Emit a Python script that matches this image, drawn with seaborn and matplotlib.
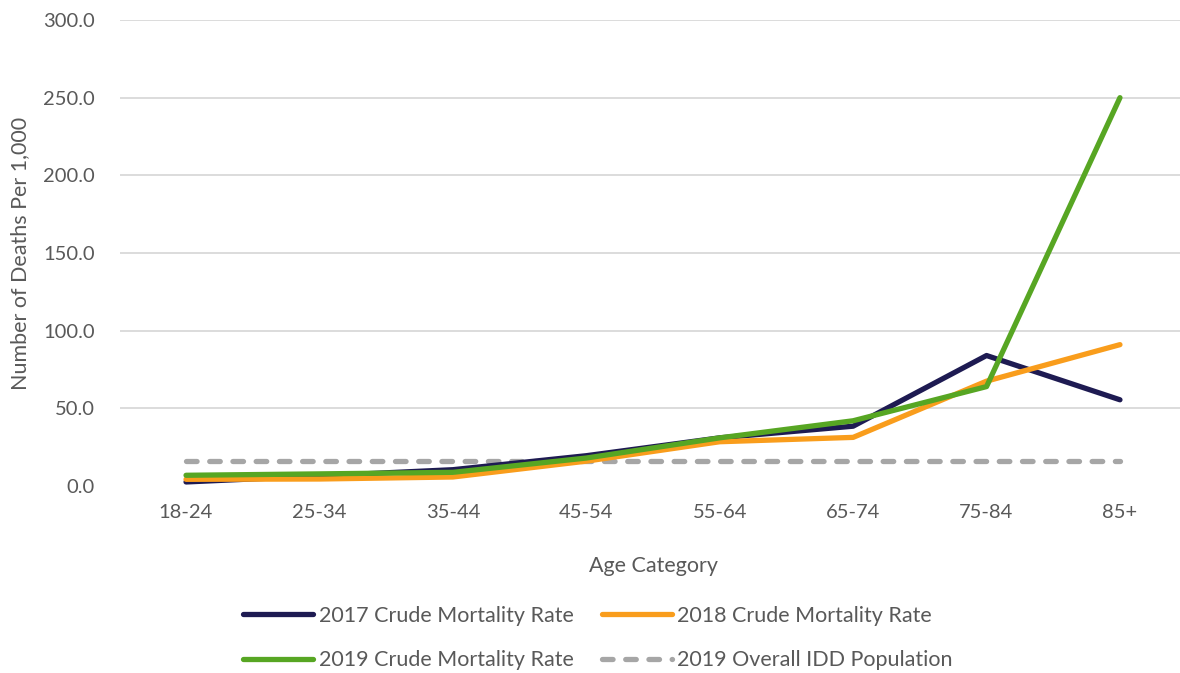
import matplotlib
matplotlib.use("Agg")
import matplotlib.pyplot as plt
import seaborn as sns
import pandas as pd

categories = ["18-24", "25-34", "35-44", "45-54", "55-64", "65-74", "75-84", "85+"]
rate_2017 = [2.6, 6.5, 10.5, 19.5, 31.0, 38.5, 84.0, 55.5]
rate_2018 = [4.3, 4.5, 5.8, 16.0, 28.5, 31.3, 67.5, 91.0]
rate_2019 = [6.9, 7.8, 8.8, 18.0, 31.0, 42.0, 64.0, 250.0]
idd_2019 = [16.3, 16.3, 16.3, 16.3, 16.3, 16.3, 16.3, 16.3]

series_names = ["2017 Crude Mortality Rate", "2018 Crude Mortality Rate",
                "2019 Crude Mortality Rate", "2019 Overall IDD Population"]
colors = ["#1E1B52", "#F99D1C", "#57A623", "#A6A6A6"]

sns.set_theme(style="white")
plt.rcParams["font.family"] = ["Lato", "DejaVu Sans"]

frames = []
for name, vals in zip(series_names, [rate_2017, rate_2018, rate_2019, idd_2019]):
    frames.append(pd.DataFrame({"Age": categories, "Rate": vals, "Series": name}))
df = pd.concat(frames, ignore_index=True)

fig = plt.figure(figsize=(11.8, 6.73), dpi=100)
ax = fig.add_axes([120/1180, 1 - 486/673, 1 - 120/1180, (486 - 20)/673])

order = [3, 0, 1, 2]
handles = {}
for i in order:
    name = series_names[i]
    sub = df[df["Series"] == name]
    sns.lineplot(data=sub, x="Age", y="Rate", ax=ax, color=colors[i],
                 linewidth=3.8, label=name, sort=False,
                 solid_capstyle="round", dash_capstyle="round")
    line = ax.get_lines()[-1]
    if i == 3:
        line.set_dashes([2.0, 2.4])
    handles[name] = line

ax.set_ylim(0, 300)
ax.set_xlim(-0.495, 7.45)
ax.set_yticks([0, 50, 100, 150, 200, 250, 300])
ax.set_yticklabels([f"{v:.1f}" for v in [0, 50, 100, 150, 200, 250, 300]])
ax.grid(axis="y", color="#D9D9D9", linewidth=1.3)
ax.yaxis.get_gridlines()[0].set_visible(False)
ax.set_axisbelow(True)
for s in ax.spines.values():
    s.set_visible(False)
ax.tick_params(axis="both", length=0, labelsize=14.5, labelcolor="#595959")
ax.tick_params(axis="y", pad=18)
ax.tick_params(axis="x", pad=13)
ax.set_xlabel("Age Category", fontsize=15.5, color="#595959")
ax.set_ylabel("Number of Deaths Per 1,000", fontsize=15.5, color="#595959")
ax.xaxis.set_label_coords((653 - 120) / 1060, -(556 - 486) / 466)
ax.yaxis.set_label_coords(-(120 - 30) / 1060, 0.5)

ax.get_legend().remove()
leg_order = [series_names[0], series_names[2], series_names[1], series_names[3]]
leg = fig.legend([handles[n] for n in leg_order], leg_order, ncol=2,
                 loc="center", bbox_to_anchor=(598/1180, 1 - 638/673),
                 frameon=False, fontsize=15.5, handlelength=3.25, handletextpad=0.25,
                 columnspacing=1.3, labelspacing=1.15)
for t in leg.get_texts():
    t.set_color("#595959")

fig.savefig("out.png", dpi=100)
